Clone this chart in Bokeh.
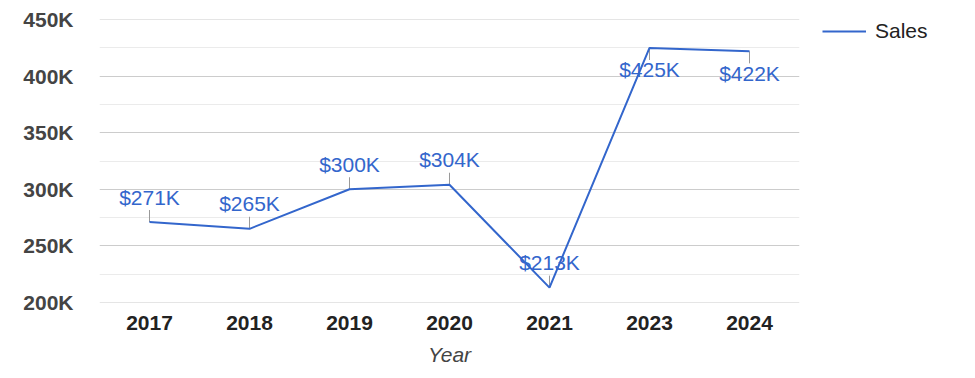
from math import pi
from bokeh.plotting import figure
from bokeh.layouts import row
from bokeh.models import (ColumnDataSource, FixedTicker, PrintfTickFormatter,
                          Legend, LegendItem, Range1d, FactorRange)
from bokeh.core.properties import value
from bokeh.embed import file_html
from bokeh.resources import INLINE

# ---- data ----
years = ["2017", "2018", "2019", "2020", "2021", "2023", "2024"]
sales_k = [271, 265, 300, 304, 213, 425, 422]          # thousands of dollars
label_side = ["above", "above", "above", "above", "above", "below", "below"]
y_ticks = [200, 250, 300, 350, 400, 450]
y_minor = [225, 275, 325, 375, 425]
series_name = "Sales"

BLUE = "#3366cc"
FONT = "Liberation Sans"

labels = ["$%dK" % v for v in sales_k]
text_off = [-25 if s == "above" else 22 for s in label_side]
ray_ang = [pi / 2 if s == "above" else -pi / 2 for s in label_side]

src = ColumnDataSource(dict(x=years, y=sales_k, label=labels,
                            toff=text_off, ang=ray_ang))

p = figure(x_range=years, y_range=Range1d(199.8, 450.2),
           width=800, height=378, output_backend="svg", toolbar_location=None,
           min_border_left=99, min_border_right=1, min_border_top=19,
           min_border_bottom=76)
p.outline_line_color = None
p.background_fill_color = "white"

# leader lines
p.ray(x="x", y="y", length=12, length_units="screen", angle="ang",
      line_color="#999999", line_width=1, source=src)

line = p.line(x="x", y="y", line_color=BLUE, line_width=2, source=src)

p.text(x="x", y="y", text="label", y_offset="toff", source=src,
       text_align="center", text_baseline="alphabetic",
       text_color=BLUE, text_font_size="21px", text_font=value(FONT))

# axes
p.yaxis.ticker = FixedTicker(ticks=y_ticks, minor_ticks=y_minor)
p.yaxis.formatter = PrintfTickFormatter(format="%dK")
for ax in (p.xaxis[0], p.yaxis[0]):
    ax.axis_line_color = None
    ax.major_tick_line_color = None
    ax.minor_tick_line_color = None
    ax.major_label_text_font = FONT
    ax.major_label_text_font_style = "bold"
    ax.major_label_text_font_size = "21px"
p.yaxis.major_label_text_color = "#444444"
p.yaxis.major_label_standoff = 20
p.xaxis.major_label_text_color = "#222222"
p.xaxis.major_label_standoff = 7
p.xaxis.axis_label = "Year"
p.xaxis.axis_label_text_font = FONT
p.xaxis.axis_label_text_font_style = "italic"
p.xaxis.axis_label_text_font_size = "21px"
p.xaxis.axis_label_text_color = "#444444"
p.xaxis.axis_label_standoff = 10

p.xgrid.grid_line_color = None
p.ygrid.grid_line_color = "#cccccc"
p.ygrid.minor_grid_line_color = "#ebebeb"

# legend panel (separate small figure to the right)
lf = figure(width=175, height=378, output_backend="svg", toolbar_location=None,
            x_range=FactorRange(factors=years), y_range=Range1d(0, 1),
            x_axis_location=None, y_axis_location=None,
            min_border_left=22, min_border_top=19, min_border_right=0,
            min_border_bottom=0)
lf.outline_line_color = None
lf.xgrid.grid_line_color = None
lf.ygrid.grid_line_color = None
key = lf.line(x="x", y="y", source=src, line_color=BLUE, line_width=2,
              visible=False)
legend = Legend(items=[LegendItem(label=series_name, renderers=[key])],
                location="top_left", orientation="vertical",
                margin=0, padding=0, glyph_width=44, glyph_height=20,
                label_standoff=9, label_text_font=FONT,
                label_text_font_size="21px", label_text_color="#222222",
                border_line_color=None, background_fill_alpha=0,
                click_policy="none")
lf.add_layout(legend, "center")

open("out.html", "w").write(file_html(row(p, lf), INLINE))
